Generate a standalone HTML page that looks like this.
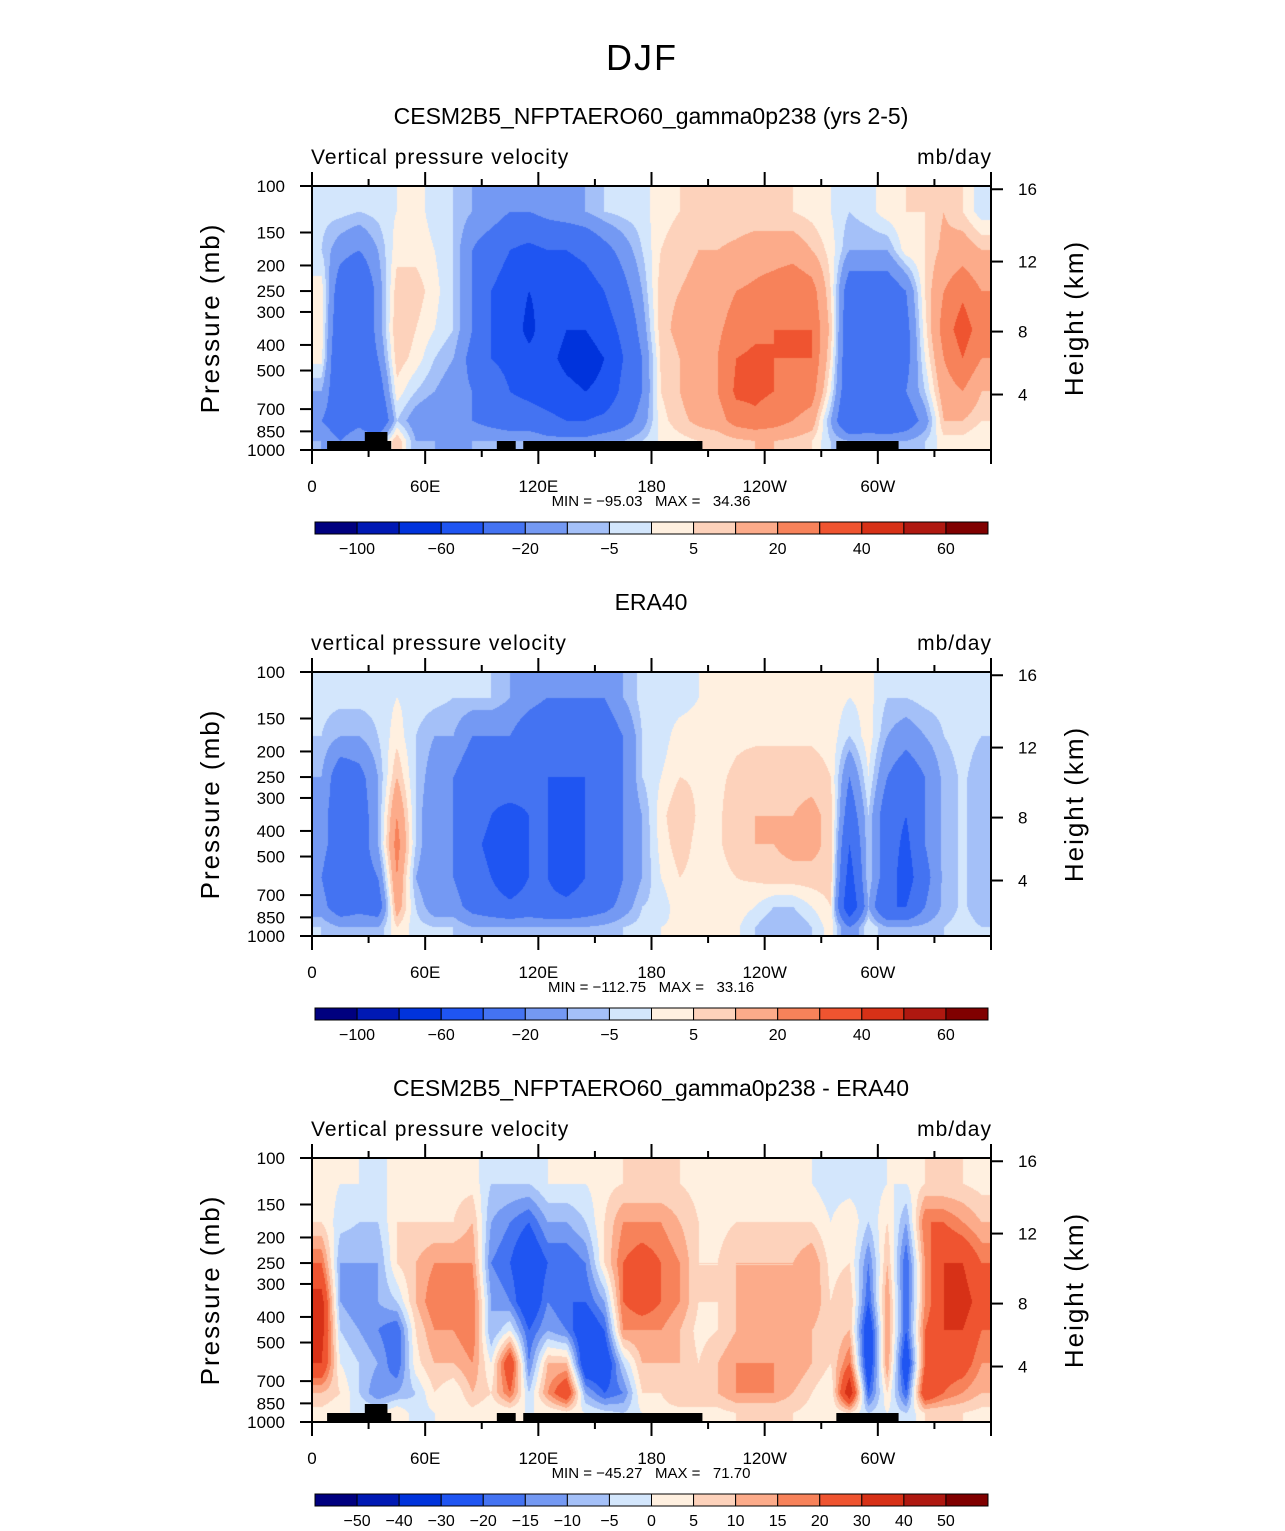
<!DOCTYPE html>
<html><head><meta charset="utf-8">
<style>
body{margin:0;background:#fff;width:1285px;height:1531px;position:relative;overflow:hidden;font-family:"Liberation Sans",sans-serif}
canvas{position:absolute}
svg{position:absolute;left:0;top:0}
</style></head>
<body>
<div id="root"></div>
<svg id="svg" width="1285" height="1531"></svg>
<script>
// ---- data ----
const lonCenters = [5,15,25,35,45,55,65,75,85,95,105,115,125,135,145,155,165,175,185,195,205,215,225,235,245,255,265,275,285,295,305,315,325,335,345,355];
const levels = [125,175,250,350,450,600,775,925];
const model = [
[-3,-5,3,3,2,-10,-20,-10],[-3,-15,-30,-35,-40,-35,-30,-20],[-5,-20,-40,-40,-35,-30,-25,-10],[-3,-10,-15,-15,-20,-30,-40,-10],
[0,3,8,10,8,3,-5,10],[2,3,8,5,3,-5,-15,-10],[-2,0,2,0,-5,-10,-20,-10],[-5,-5,-5,-5,-10,-15,-20,-15],
[-10,-20,-20,-20,-25,-20,-20,-10],[-12,-30,-40,-40,-40,-30,-25,-10],[-20,-40,-50,-50,-45,-40,-30,-10],[-20,-45,-60,-65,-55,-45,-30,-10],
[-15,-40,-55,-50,-55,-50,-35,-15],[-12,-40,-55,-60,-65,-55,-40,-15],[-10,-35,-50,-60,-70,-60,-40,-15],[-5,-25,-40,-50,-60,-55,-35,-10],
[-3,-15,-25,-35,-40,-35,-25,-10],[-2,-5,-10,-15,-20,-20,-15,-5],[3,5,8,8,6,5,3,1],[5,8,10,12,10,10,8,3],
[5,10,12,15,15,15,12,5],[5,10,15,18,20,20,15,5],[5,12,20,25,30,32,25,8],[5,15,22,28,32,32,28,10],
[5,15,25,30,30,30,25,10],[5,15,30,30,30,28,20,8],[3,10,25,30,30,25,15,5],[0,3,5,8,5,0,-10,-5],
[-5,-10,-30,-35,-35,-35,-40,-10],[-2,-10,-30,-30,-30,-30,-35,-10],[3,-10,-30,-30,-30,-30,-40,-10],[5,3,-20,-25,-25,-20,-30,-10],
[5,5,5,3,0,-5,-15,-5],[10,12,20,25,20,15,10,3],[5,15,28,35,30,20,10,3],[-3,10,20,25,20,10,5,0]];
const obs = [
[-3,-5,-10,-15,-15,-20,-15,-5],[-3,-10,-30,-30,-30,-35,-30,-10],[-3,-10,-25,-30,-30,-30,-25,-10],[-3,-5,-10,-10,-10,-20,-30,-10],
[0,3,10,20,25,20,15,5],[-2,-5,-5,-5,-5,-10,-5,-3],[-3,-10,-15,-20,-20,-20,-15,-5],[-5,-10,-20,-20,-20,-20,-15,-5],
[-5,-20,-30,-30,-35,-30,-25,-10],[-5,-20,-35,-40,-45,-40,-30,-10],[-10,-20,-30,-45,-60,-55,-35,-10],[-15,-30,-35,-40,-40,-40,-30,-10],
[-20,-35,-40,-40,-40,-40,-35,-10],[-20,-35,-40,-45,-50,-50,-35,-10],[-20,-35,-40,-40,-40,-40,-30,-10],[-20,-30,-35,-35,-35,-35,-25,-8],
[-10,-20,-20,-20,-20,-20,-15,-5],[-3,-5,-5,-10,-10,-10,-5,-3],[-3,-3,0,3,2,0,-3,0],[-3,3,5,10,8,5,3,1],
[0,3,4,4,3,3,2,1],[2,3,4,4,4,3,2,1],[2,4,6,8,8,5,3,1],[2,4,8,10,10,6,0,-5],
[2,4,8,10,10,8,-5,-10],[2,4,8,10,12,8,-5,-10],[2,4,8,12,12,8,0,-5],[3,3,5,8,8,8,5,3],
[0,-5,-20,-30,-40,-50,-60,-20],[2,3,0,-5,-5,-5,-10,0],[-5,-10,-20,-30,-30,-30,-40,-10],[-5,-15,-30,-40,-45,-50,-40,-10],
[-3,-10,-20,-20,-20,-25,-20,-8],[-3,-5,-8,-8,-8,-8,-8,-5],[-2,-3,-4,-4,-4,-4,-4,-3],[-3,-5,-8,-8,-8,-8,-8,-5]];
const diff = [
[3,5,20,35,35,30,10,3],[0,-3,-10,-10,-5,0,5,0],[0,-5,-10,-15,-10,-5,-5,0],[-3,-5,-10,-10,-15,-10,-15,0],
[3,5,5,-5,-20,-20,-10,5],[3,5,10,10,5,3,-5,-3],[3,5,15,20,15,10,5,0],[3,5,15,20,15,10,0,0],
[3,10,15,20,20,15,10,3],[-5,-10,-15,-10,-10,0,5,0],[-5,-15,-20,-15,0,30,20,0],[-5,-20,-30,-30,-20,-15,-5,0],
[0,-10,-20,-15,-10,10,15,0],[0,-10,-20,-20,-15,10,30,3],[0,-5,-15,-20,-30,-30,-10,0],[3,5,5,-10,-20,-30,-20,-3],
[5,15,20,20,15,-5,-15,-5],[5,15,25,25,15,10,5,0],[5,15,20,20,15,10,5,3],[5,10,15,15,10,10,10,3],
[3,5,5,5,3,5,10,3],[3,3,5,5,5,10,10,3],[3,5,10,10,10,15,15,5],[3,5,10,10,10,15,15,5],
[3,5,10,10,10,15,15,5],[3,5,10,10,10,15,10,5],[0,5,15,15,10,10,5,3],[-3,0,3,5,5,5,0,0],
[-3,5,5,10,10,20,40,5],[-3,-5,-15,-20,-30,-30,-20,-5],[0,5,10,15,15,15,5,0],[0,-10,-20,-20,-20,-30,-20,-5],
[5,20,15,15,20,20,30,5],[5,20,30,30,30,25,20,5],[5,15,30,35,30,25,15,5],[3,10,20,25,20,15,10,3]];
const levA = [-100,-80,-60,-40,-20,-10,-5,0,5,10,20,30,40,50,60];
const levB = [-50,-40,-30,-20,-15,-10,-5,0,5,10,15,20,30,40,50];
const labA = ["-100","-60","-20","-5","5","20","40","60"];
const labB = ["-50","-40","-30","-20","-15","-10","-5","0","5","10","15","20","30","40","50"];
const colors = ["#00007f","#0019b4","#0033dc","#1f55f2","#4473f2","#7499f3","#a4c0f8","#d3e6fc","#fff0e0","#fdd2bb","#fcab8a","#f7825a","#ef5430","#d73117","#af1810","#800000"];
const pTicks = [100,150,200,250,300,400,500,700,850,1000];
const hTicks = [4,8,12,16];
const lonTicks = [0,60,120,180,240,300];
const lonLabels = ["0","60E","120E","180","120W","60W"];
const topo = [[8,42],[98,108],[112,207],[278,311]];
const topoBump = [[28,40]];
const panels = [
 {top:186,title:"CESM2B5_NFPTAERO60_gamma0p238 (yrs 2-5)",sub:"Vertical pressure velocity",data:model,lev:levA,lab:labA,mm:"MIN = \u221295.03   MAX =   34.36",topo:true},
 {top:672,title:"ERA40",sub:"vertical pressure velocity",data:obs,lev:levA,lab:labA,mm:"MIN = \u2212112.75   MAX =   33.16",topo:false},
 {top:1158,title:"CESM2B5_NFPTAERO60_gamma0p238 - ERA40",sub:"Vertical pressure velocity",data:diff,lev:levB,lab:labB,mm:"MIN = \u221245.27   MAX =   71.70",topo:true}];

const X0=312,X1=991,H=264;
const xs = lon => X0 + lon/360*(X1-X0);
const yp = p => Math.log10(p/100)*H;
function zToP(z){ if(z<=11000) return 1013.25*Math.pow(1-2.25577e-5*z,5.25588); return 226.32*Math.exp(-(z-11000)/6341.6); }
const svg=document.getElementById('svg');
const NS="http://www.w3.org/2000/svg";
function mk(tag,attrs,parent){const e=document.createElementNS(NS,tag);for(const k in attrs)e.setAttribute(k,attrs[k]);(parent||svg).appendChild(e);return e;}
function txt(s,x,y,size,anchor,extra){const t=mk('text',Object.assign({x:x,y:y,'font-size':size,'text-anchor':anchor||'start','font-family':'"Liberation Sans",sans-serif',fill:'#000','xml:space':'preserve'},extra||{}));t.style.whiteSpace='pre';t.textContent=s;return t;}

let t0=txt("DJF",642,70,36,'middle',{'letter-spacing':'2'});



function sample(data,lon,p){
  let lc=(lon-5)/10; if(lc<0)lc=0; if(lc>35)lc=35;
  const i0=Math.floor(lc),i1=Math.min(35,i0+1),fx=lc-i0;
  const lp=Math.log(p); const ll=levels.map(Math.log);
  let j0=0; while(j0<levels.length-2 && lp>ll[j0+1]) j0++;
  let fy=(lp-ll[j0])/(ll[j0+1]-ll[j0]); fy=Math.max(0,Math.min(1,fy));
  const j1=j0+1;
  const a=data[i0][j0]*(1-fx)+data[i1][j0]*fx;
  const b=data[i0][j1]*(1-fx)+data[i1][j1]*fx;
  return a*(1-fy)+b*fy;
}
function bin(v,lev){let k=0;while(k<lev.length&&v>=lev[k])k++;return k;}
function hex(c){return [parseInt(c.substr(1,2),16),parseInt(c.substr(3,2),16),parseInt(c.substr(5,2),16)];}
const rgb=colors.map(hex);

panels.forEach((P,pi)=>{
  const T=P.top;
  const cv=document.createElement('canvas');
  cv.width=X1-X0; cv.height=H;
  cv.style.left=X0+'px'; cv.style.top=T+'px';
  
  
  document.body.insertBefore(cv,svg);
  const ctx=cv.getContext('2d');const img=ctx.createImageData(cv.width,cv.height);
  for(let y=0;y<H;y++){const p=100*Math.pow(10,(y+0.5)/H);
    for(let x=0;x<cv.width;x++){const lon=(x+0.5)/cv.width*360;
      const c=rgb[bin(sample(P.data,lon,p),P.lev)];const o=(y*cv.width+x)*4;
      img.data[o]=c[0];img.data[o+1]=c[1];img.data[o+2]=c[2];img.data[o+3]=255;}}
  ctx.putImageData(img,0,0);
  const g=mk('g',{});
  
  
  if(P.topo){
    topo.forEach(r=>{const b=mk('rect',{x:xs(r[0]),y:T+H-9,width:xs(r[1])-xs(r[0]),height:9,fill:'#000'},g);
      
      });
    topoBump.forEach(r=>{const b=mk('rect',{x:xs(r[0]),y:T+H-18,width:xs(r[1])-xs(r[0]),height:10,fill:'#000'},g);
      
      });
  }
  const fr=mk('rect',{x:X0,y:T,width:X1-X0,height:H,fill:'none',stroke:'#000','stroke-width':2},g);
  
  
  let tt=txt(P.title,651,T-62,23,'middle',{},g);
  
  
  let st=txt(P.sub,311,T-22,21,'start',{'letter-spacing':'1'},g);
  
  
  let un=txt("mb/day",992,T-22,21,'end',{'letter-spacing':'1'},g);
  
  
  for(let l=0;l<=360;l+=30){const x=xs(l);const len=(l%60===0)?14:7;
    mk('line',{x1:x,x2:x,y1:T,y2:T-len,stroke:'#000','stroke-width':2},g);
    mk('line',{x1:x,x2:x,y1:T+H,y2:T+H+len,stroke:'#000','stroke-width':2},g);}
  lonTicks.forEach((l,i)=>{const t=txt(lonLabels[i],xs(l),T+H+42,17,'middle',{},g);
    
    });
  pTicks.forEach(p=>{const y=T+yp(p);mk('line',{x1:X0,x2:X0-12,y1:y,y2:y,stroke:'#000','stroke-width':2},g);
    const t=txt(String(p),285,y+6,17,'end',{},g);
    
    });
  hTicks.forEach(h=>{const y=T+yp(zToP(h*1000));mk('line',{x1:X1,x2:X1+12,y1:y,y2:y,stroke:'#000','stroke-width':2},g);
    const t=txt(String(h),1018,y+6,17,'start',{},g);
    
    });
  let ya=txt("Pressure (mb)",0,0,26,'middle',{transform:`translate(219,${T+132}) rotate(-90)`,'letter-spacing':'2'},g);
  
  
  let ha=txt("Height (km)",0,0,26,'middle',{transform:`translate(1083,${T+132}) rotate(-90)`,'letter-spacing':'2'},g);
  
  
  let mm=txt(P.mm,651,T+320,15,'middle',{},g);
  
  
  const cy=T+336, cw=(988-315)/16;
  colors.forEach((c,k)=>{const r=mk('rect',{x:315+k*cw,y:cy,width:cw,height:12,fill:c,stroke:'#000','stroke-width':1},g);
    
    });
  const step = P.lab.length===8?2:1;
  P.lab.forEach((s,k)=>{const bi=step===2?(2*k):k;const x=315+(bi+1)*cw;
    const t=txt(s.replace('-','\u2212'),x,cy+32,16,'middle',{},g);
    
    });
});
</script>
</body></html>
